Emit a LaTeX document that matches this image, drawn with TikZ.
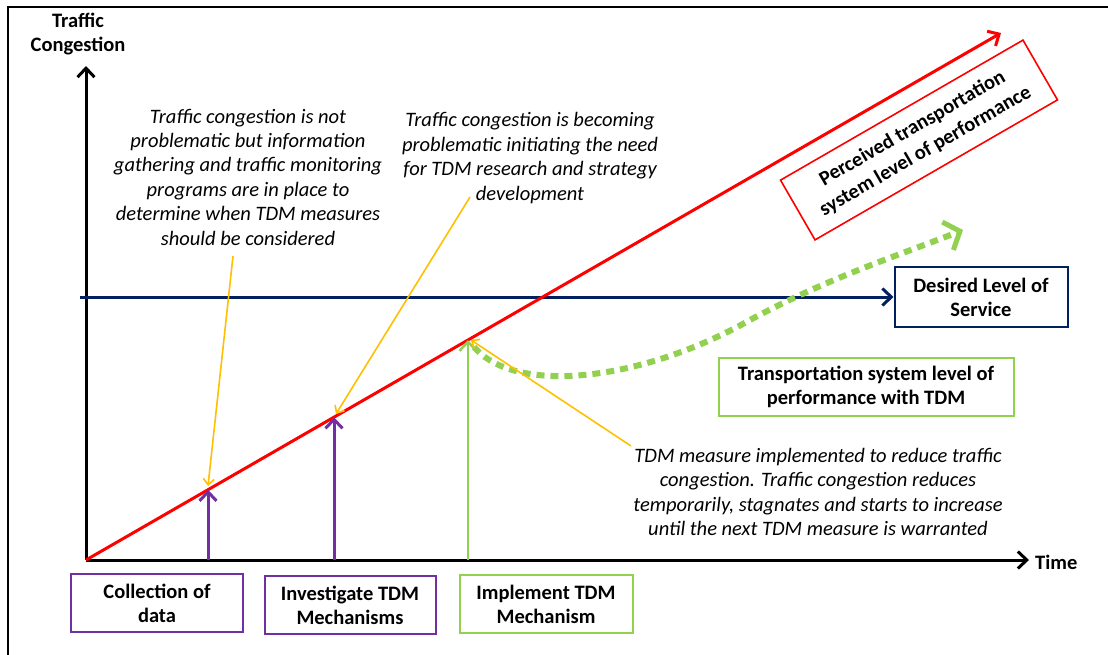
\documentclass[tikz,border=0pt]{standalone}
\usepackage{fontspec}
\setmainfont{Carlito}
\usetikzlibrary{arrows.meta}
\definecolor{cred}{RGB}{255,0,0}
\definecolor{cnavy}{RGB}{0,32,96}
\definecolor{cpurple}{RGB}{112,48,160}
\definecolor{cgreen}{RGB}{146,208,80}
\definecolor{cyellow}{RGB}{255,192,0}
\begin{document}
\begin{tikzpicture}[x=1pt,y=-1pt,
  lbl/.style={font=\fontsize{20.5}{24}\selectfont\bfseries, align=center, inner sep=0pt},
  note/.style={font=\fontsize{20.5}{24.4}\selectfont\itshape, align=center, inner sep=0pt},
  box/.style={draw, line width=2pt, minimum height=58pt, lbl},
  bigtip/.style={-{Straight Barb[length=9pt,width=17pt]}},
  smalltip/.style={-{Straight Barb[length=6pt,width=11pt]}},
]
\useasboundingbox (0,0) rectangle (1108,654);
\fill[white] (0,0) rectangle (1108,654);
% frame
\draw[line width=1.5pt] (8,660) -- (8,7) -- (1115,7);

% coordinates
\coordinate (O) at (86,560);
\coordinate (ytop) at (86,66);
\coordinate (xend) at (1029,560);
\coordinate (rend) at (1001,33);
\coordinate (P1) at (208,489.7);
\coordinate (P2) at (334,417.2);
\coordinate (P3) at (468,340);
\coordinate (B1) at (208,560);
\coordinate (B2) at (334,560);
\coordinate (B3) at (468,560);
\coordinate (Y1) at (208,486);
\coordinate (Y2) at (336,414);
\coordinate (Y3) at (471,340);
\coordinate (nav0) at (80,297);

% labels on axes
\node[lbl] (ylab) at (78,34) {Traffic\\Congestion};
\node[lbl, anchor=west] (tlab) at (1035,562) {Time};

% boxes
\node[box, draw=cpurple, minimum width=172pt] (b1) at (157,603) {Collection of\\data};
\node[box, draw=cpurple, minimum width=171pt] (b2) at (350,605) {Investigate TDM\\Mechanisms};
\node[box, draw=cgreen, minimum width=173pt] (b3) at (546,604) {Implement TDM\\Mechanism};
\node[box, draw=cnavy, minimum width=173pt, minimum height=60pt] (des) at (981,297) {Desired Level of\\Service};
\node[box, draw=cgreen, minimum width=295pt] (trans) at (866,387) {Transportation system level of\\performance with TDM};
\node[box, draw=cred, line width=1.6pt, minimum width=280pt, minimum height=69pt, rotate=30,
  font=\fontsize{20.5}{26}\selectfont\bfseries] (perc) at (919,140) {Perceived transportation\\system level of performance};

% notes
\node[note] (n1) at (248,177) {Traffic congestion is not\\problematic but information\\gathering and traffic monitoring\\programs are in place to\\determine when TDM measures\\should be considered};
\node[note] (n2) at (530,158) {Traffic congestion is becoming\\problematic initiating the need\\for TDM research and strategy\\development};
\node[note] (n3) at (818,492) {TDM measure implemented to reduce traffic\\congestion. Traffic congestion reduces\\temporarily, stagnates and starts to increase\\until the next TDM measure is warranted};

\coordinate (s1) at (233,256);
\coordinate (s2) at (470,197);
\coordinate (s3) at (631,446);

% axes
\draw[line width=3pt, bigtip] (O) -- (ytop);
\draw[line width=3pt, bigtip] (O) -- (xend);

% navy desired level line
\draw[cnavy, line width=3pt, bigtip] (nav0) -- (des.west);

% green dotted curve
\coordinate (g0) at (474,347);
\coordinate (g1) at (750,320);
\coordinate (g2) at (963,230);
\draw[cgreen, line width=6pt, dash pattern=on 8pt off 6pt,
  -{Straight Barb[length=13pt,width=30pt,line width=5pt]}]
  (g0) .. controls (515,395) and (640,382) .. (g1)
  .. controls (830,277) and (900,255) .. (g2);

% red line
\draw[cred, line width=3pt, bigtip] (O) -- (rend);

% vertical arrows
\draw[cpurple, line width=3pt, bigtip] (B1) -- (P1);
\draw[cpurple, line width=3pt, bigtip] (B2) -- (P2);
\draw[cgreen, line width=2.5pt, bigtip] (B3) -- (P3);

% yellow pointers
\draw[cyellow, line width=1.6pt, smalltip] (s1) -- (Y1);
\draw[cyellow, line width=1.6pt, smalltip] (s2) -- (Y2);
\draw[cyellow, line width=1.6pt, smalltip] (s3) -- (Y3);
\end{tikzpicture}
\end{document}
